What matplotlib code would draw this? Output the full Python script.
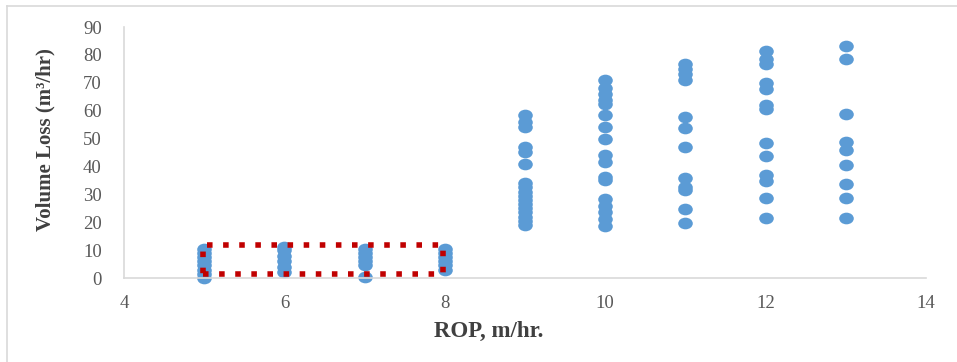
import matplotlib
matplotlib.use('Agg')
import matplotlib.pyplot as plt
from matplotlib.path import Path
from matplotlib.patches import Rectangle
from matplotlib.lines import Line2D
from matplotlib.transforms import Affine2D

# volume loss readings grouped by rate of penetration (m/hr)
rop_5 = [0, 1.5, 3, 4.5, 6, 7.5, 9, 10.5]
rop_6 = [2, 4, 6, 8, 10, 11]
rop_7 = [0.5, 4.5, 6, 7.5, 9, 10.5]
rop_8 = [3, 4.5, 6, 7.5, 9, 10.5]
rop_9 = [58.6, 56, 54, 47, 45.2, 40.8, 34, 32.5, 31, 29.5, 28, 26.5,
         25, 23.5, 22, 20.5, 19]
rop_10 = [71, 68, 66, 64, 62.5, 58.3, 54, 49.7, 44, 41.6, 36.3, 35,
          28.5, 26, 23.7, 21.3, 18.5]
rop_11 = [76.8, 75, 73.3, 71.1, 57.7, 53.9, 47, 36, 32.6, 31.7, 24.6, 19.9]
rop_12 = [81.4, 78.6, 76.8, 69.9, 67.9, 61.9, 60.7, 48.5, 43.7, 37.1,
          34.8, 28.8, 21.5]
rop_13 = [83.2, 78.4, 58.7, 48.7, 45.8, 40.6, 33.6, 28.8, 21.5]

groups = {5: rop_5, 6: rop_6, 7: rop_7, 8: rop_8, 9: rop_9,
          10: rop_10, 11: rop_11, 12: rop_12, 13: rop_13}

x_ticks = [4, 6, 8, 10, 12, 14]
y_ticks = [0, 10, 20, 30, 40, 50, 60, 70, 80, 90]

# highlighted low-loss region
box_x = (4.98, 7.98)
box_y = (1.5, 11.7)

rop = []
loss = []
for k, vals in groups.items():
    rop += [k] * len(vals)
    loss += vals

# slightly wide ellipse marker
ellipse = Path.unit_circle().transformed(Affine2D().scale(1.0, 0.8))

plt.rcParams['font.family'] = 'Liberation Serif'

fig = plt.figure(figsize=(9.57, 3.62), dpi=100)
ax = fig.add_axes([0.1296, 0.232, 0.838, 0.6934])

ax.plot(rop, loss, linestyle='none', marker=ellipse, markersize=10.5,
        color='#5B9BD5', markeredgewidth=0, clip_on=False)

ax.add_patch(Rectangle((box_x[0], box_y[0]), box_x[1] - box_x[0],
                       box_y[1] - box_y[0], fill=False,
                       edgecolor='#C00000', linewidth=4,
                       linestyle=(0, (1, 1.9)), zorder=3))

ax.set_xlim(4, 14)
ax.set_ylim(0, 90)
ax.set_xticks(x_ticks)
ax.set_yticks(y_ticks)

for s in ['top', 'right']:
    ax.spines[s].set_visible(False)
for s in ['left', 'bottom']:
    ax.spines[s].set_color('#D9D9D9')
    ax.spines[s].set_linewidth(1.2)

ax.tick_params(length=0, labelsize=13.5, labelcolor='#595959')
ax.tick_params(axis='y', pad=16)
ax.tick_params(axis='x', pad=12)

ax.set_xlabel('ROP, m/hr.', fontsize=16.5, fontweight='bold',
              color='#404040')
ax.set_ylabel('Volume Loss (m³/hr)', fontsize=15, fontweight='bold',
              color='#404040')
ax.xaxis.set_label_coords(0.455, -0.172)
ax.yaxis.set_label_coords(-0.085, 0.552)

# thin frame round the chart area
fig.add_artist(Line2D([7 / 957, 1], [1 - 5.5 / 362, 1 - 5.5 / 362],
                      transform=fig.transFigure, color='#D9D9D9', lw=1.2))
fig.add_artist(Line2D([7 / 957, 7 / 957], [0, 1 - 5.5 / 362],
                      transform=fig.transFigure, color='#D9D9D9', lw=1.2))

fig.savefig('out.png', dpi=100)
